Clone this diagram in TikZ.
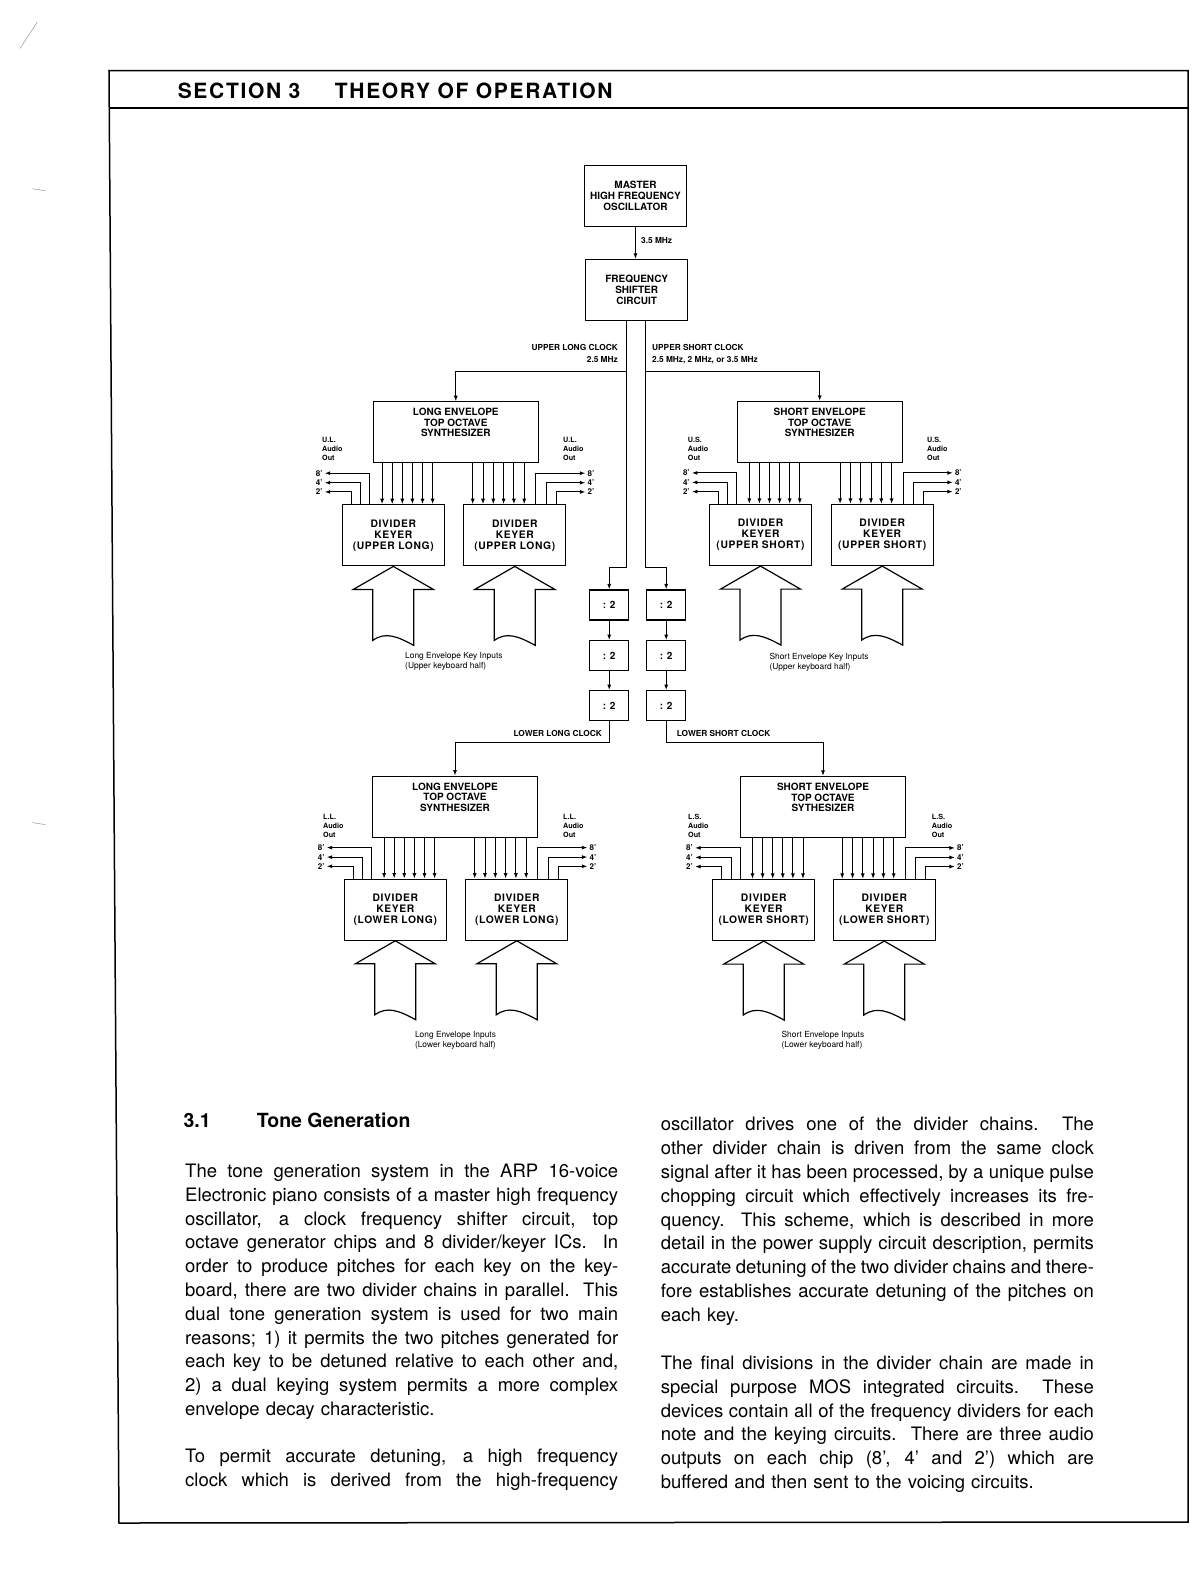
\documentclass[tikz,border=0pt]{standalone}
\usepackage{fontspec}
\setmainfont{TeX Gyre Heros}
\usetikzlibrary{arrows.meta,calc}

\newcommand\boxfnt{\fontsize{10}{11}\selectfont\bfseries}
\newcommand\dkfnt{\fontsize{10.3}{11}\selectfont\bfseries\addfontfeature{LetterSpace=6}}
\newcommand\synfnt{\fontsize{10}{10.5}\selectfont\bfseries}
\newcommand\clkfnt{\fontsize{8.3}{12}\selectfont\bfseries}
\newcommand\audfnt{\fontsize{7.2}{9}\selectfont\bfseries}
\newcommand\octfnt{\fontsize{8}{9}\selectfont\bfseries}
\newcommand\keyfnt{\fontsize{8.4}{9.7}\selectfont}
\newcommand\bodyfnt{\fontsize{18.5}{23.8}\selectfont}
\newcommand\headfnt{\fontsize{21}{24}\selectfont\bfseries\addfontfeature{LetterSpace=8}}
\newcommand\titfnt{\fontsize{19.5}{22}\selectfont\bfseries}
\newcommand\jl[1]{\noindent\hbox to 433pt{\spaceskip=.278em plus 1fil minus .1em\relax\strut#1}}
\newcommand\lastl[1]{\noindent\hbox to 433pt{\strut#1\hfil}}

\begin{document}
\begin{tikzpicture}[x=1pt, y=-1pt,
  unit/.style={draw, line width=1.2pt, align=center, inner sep=0pt, font=\boxfnt,
    minimum width=102pt, minimum height=61pt},
  dkbox/.style={unit, font=\dkfnt},
  divbox/.style={unit, minimum width=39pt, minimum height=30pt},
  synbox/.style={draw, line width=1.2pt, minimum width=165pt, minimum height=61pt},
  syntxt/.style={anchor=north, align=center, inner sep=0pt, font=\synfnt},
  sig/.style={line width=1pt, -{Latex[length=5.5pt,width=4pt]}},
  wire/.style={line width=1pt},
  clk/.style={font=\clkfnt, inner sep=0pt},
  aud/.style={font=\audfnt, inner sep=0pt, align=left, anchor=north west},
  oct/.style={font=\octfnt, inner sep=0pt},
  keyl/.style={font=\keyfnt, inner sep=0pt, align=left, anchor=north west},
  para/.style={font=\bodyfnt, inner sep=0pt, text width=433pt, anchor=north west},
  frame/.style={line width=1.5pt},
  keyin/.pic={\draw[line width=1.2pt] (0,0) -- (-40,23) -- (-20.5,23) -- (-20.5,74)
      .. controls (-8,65) and (4,70) .. (20.5,79) -- (20.5,23) -- (40,23) -- cycle;}
]
\useasboundingbox (0,0) rectangle (1198,1583);

% page frame and heading
\draw[frame] (109,70.7) -- (1188,70.7) -- (1188,1522) -- (119,1523) -- cycle;
\draw[frame] (109.3,108) -- (1188,108);
\node[anchor=base west, inner sep=0pt, font=\headfnt] (sec) at (177.6,98.3) {SECTION 3};
\node[anchor=base west, inner sep=0pt, font=\headfnt] (sectitle) at (334.7,98.3) {THEORY OF OPERATION};
\draw[gray, thin] (20,48.4) -- (37.3,22.2);
\draw[gray, thin] (32.3,188.7) -- (45.4,190.8);
\draw[gray, thin] (32.3,822.6) -- (45.4,824.6);

% oscillator and shifter
\node[unit] (master) at (635.5,196.2) {MASTER\\HIGH FREQUENCY\\OSCILLATOR};
\node[unit] (shifter) at (636.7,290) {FREQUENCY\\SHIFTER\\CIRCUIT};
\draw[sig] (master.south) -- (master.south |- shifter.north);
\node[clk, anchor=west] (mhz) at (641,240.7) {3.5 MHz};

% synthesizers
\node[synbox] (ulsynth) at (455.8,432.3) {};
\node[syntxt] (ulsyntxt) at ([yshift=-7pt]ulsynth.north) {LONG ENVELOPE\\TOP OCTAVE\\SYNTHESIZER};
\node[synbox] (ussynth) at (819.7,432) {};
\node[syntxt] (ussyntxt) at ([yshift=-7pt]ussynth.north) {SHORT ENVELOPE\\TOP OCTAVE\\SYNTHESIZER};
\node[synbox] (llsynth) at (455,806.7) {};
\node[syntxt] (llsyntxt) at ([yshift=-7pt]llsynth.north) {LONG ENVELOPE\\TOP OCTAVE\\SYNTHESIZER};
\node[synbox] (lssynth) at (823,807) {};
\node[syntxt] (lssyntxt) at ([yshift=-7pt]lssynth.north) {SHORT ENVELOPE\\TOP OCTAVE\\SYTHESIZER};

% divider keyers
\node[dkbox] (ul1) at (393.3,535.3) {DIVIDER\\KEYER\\(UPPER LONG)};
\node[dkbox] (ul2) at (514.8,535.3) {DIVIDER\\KEYER\\(UPPER LONG)};
\node[dkbox] (us1) at (760.5,535) {DIVIDER\\KEYER\\(UPPER SHORT)};
\node[dkbox] (us2) at (882.2,535) {DIVIDER\\KEYER\\(UPPER SHORT)};
\node[dkbox] (ll1) at (395.3,909.7) {DIVIDER\\KEYER\\(LOWER LONG)};
\node[dkbox] (ll2) at (516.8,909.7) {DIVIDER\\KEYER\\(LOWER LONG)};
\node[dkbox] (ls1) at (763.7,910) {DIVIDER\\KEYER\\(LOWER SHORT)};
\node[dkbox] (ls2) at (884.3,910) {DIVIDER\\KEYER\\(LOWER SHORT)};

% divide-by-two chains
\foreach \i/\y in {1/605, 2/655.7, 3/705.7} {
  \node[divbox] (dl\i) at (609.2,\y) {: 2};
  \node[divbox] (dr\i) at (666.2,\y) {: 2};
}
\draw[sig] (dl1) -- (dl2);
\draw[sig] (dl2) -- (dl3);
\draw[sig] (dr1) -- (dr2);
\draw[sig] (dr2) -- (dr3);

% clocks
\coordinate (ulk) at (626,371.7);
\coordinate (usk) at (645,371.7);
\draw[wire] (shifter.south -| ulk) -- (ulk);
\draw[wire] (shifter.south -| usk) -- (usk);
\draw[sig] (ulk) -| (ulsynth.north);
\draw[sig] (usk) -| (ussynth.north);
\draw[sig] (ulk) |- ([yshift=22pt]dl1.north) -- (dl1.north);
\draw[sig] (usk) |- ([yshift=22pt]dr1.north) -- (dr1.north);
\draw[sig] (dl3.south) -- ++(0,21) -| (llsynth.north);
\draw[sig] (dr3.south) -- ++(0,21) -| (lssynth.north);
\node[clk, align=right, anchor=north east] (ulclk) at (618,344) {UPPER LONG CLOCK\\2.5 MHz};
\node[clk, align=left, anchor=north west] (usclk) at (652,344) {UPPER SHORT CLOCK\\2.5 MHz, 2 MHz, or 3.5 MHz};
\node[clk, anchor=east] (llclk) at (602,733.3) {LOWER LONG CLOCK};
\node[clk, anchor=west] (lsclk) at (676.7,733.3) {LOWER SHORT CLOCK};

% synthesizer outputs and audio outputs
\foreach \s/\a/\b in {ulsynth/ul1/ul2, ussynth/us1/us2, llsynth/ll1/ll2, lssynth/ls1/ls2} {
  \foreach \k in {0,...,5} {
    \path ($(\a.north west)+({40.4+10.1*\k},0)$) coordinate (fa)
          ($(\b.north west)+({9.5+10.3*\k},0)$) coordinate (fb);
    \draw[sig] (\s.south -| fa) -- (fa);
    \draw[sig] (\s.south -| fb) -- (fb);
  }
  \foreach \o/\h/\t/\i in {28/31/8'/1, 19/21.5/4'/2, 9.5/12.3/2'/3} {
    \path ($(\a.north west)+(\o,0)$) coordinate (oa) ($(\a.north west)+(-17,-\h)$) coordinate (ta);
    \draw[sig] (oa) |- (ta);
    \node[oct, anchor=east] (\a-o\i) at ([xshift=-2pt]ta) {\t};
  }
  \foreach \o/\h/\t/\i in {30.5/31/8'/1, 20.3/21.5/4'/2, 10/12.3/2'/3} {
    \path ($(\b.north east)+(-\o,0)$) coordinate (ob) ($(\b.north east)+(19,-\h)$) coordinate (tb);
    \draw[sig] (ob) |- (tb);
    \node[oct, anchor=west] (\b-o\i) at ([xshift=2pt]tb) {\t};
  }
}
\node[aud] (ulaud1) at (322,437) {U.L.\\Audio\\Out};
\node[aud] (ulaud2) at (563,437) {U.L.\\Audio\\Out};
\node[aud] (usaud1) at (687.7,437) {U.S.\\Audio\\Out};
\node[aud] (usaud2) at (927,437) {U.S.\\Audio\\Out};
\node[aud] (llaud1) at (323,814) {L.L.\\Audio\\Out};
\node[aud] (llaud2) at (563,814) {L.L.\\Audio\\Out};
\node[aud] (lsaud1) at (688,814) {L.S.\\Audio\\Out};
\node[aud] (lsaud2) at (931.7,814) {L.S.\\Audio\\Out};

% key inputs
\foreach \d in {ul1,ul2,us1,us2,ll1,ll2,ls1,ls2}
  \pic at (\d.south) {keyin};
\node[keyl] (ulkey) at (405,652.5) {Long Envelope Key Inputs\\(Upper keyboard half)};
\node[keyl] (uskey) at (769.3,653) {Short Envelope Key Inputs\\(Upper keyboard half)};
\node[keyl] (llkey) at (414.8,1031.5) {Long Envelope Inputs\\(Lower keyboard half)};
\node[keyl] (lskey) at (781.4,1031.5) {Short Envelope Inputs\\(Lower keyboard half)};

% text
\node[anchor=base west, inner sep=0pt, font=\titfnt] (secnum) at (183.3,1127.7) {3.1};
\node[anchor=base west, inner sep=0pt, font=\titfnt] (sectone) at (256.7,1127.7) {Tone Generation};
\node[para] (pa) at (185,1160.6) {%
\jl{The tone generation system in the ARP 16-voice}\\
\jl{Electronic piano consists of a master high frequency}\\
\jl{oscillator, a clock frequency shifter circuit, top}\\
\jl{octave generator chips and 8 divider/keyer ICs.\ \ In}\\
\jl{order to produce pitches for each key on the key-}\\
\jl{board, there are two divider chains in parallel.\ \ This}\\
\jl{dual tone generation system is used for two main}\\
\jl{reasons; 1) it permits the two pitches generated for}\\
\jl{each key to be detuned relative to each other and,}\\
\jl{2) a dual keying system permits a more complex}\\
\lastl{envelope decay characteristic.}};
\node[para] (pb) at (185,1445.6) {%
\jl{To permit accurate detuning, a high frequency}\\
\jl{clock which is derived from the high-frequency}};
\node[para] (pc) at (660.7,1114) {%
\jl{oscillator drives one of the divider chains.\ \ The}\\
\jl{other divider chain is driven from the same clock}\\
\jl{signal after it has been processed, by a unique pulse}\\
\jl{chopping circuit which effectively increases its fre-}\\
\jl{quency.\ \ This scheme, which is described in more}\\
\jl{detail in the power supply circuit description, permits}\\
\jl{accurate detuning of the two divider chains and there-}\\
\jl{fore establishes accurate detuning of the pitches on}\\
\lastl{each key.}};
\node[para] (pd) at (660.7,1352.6) {%
\jl{The final divisions in the divider chain are made in}\\
\jl{special purpose MOS integrated circuits.\ \ These}\\
\jl{devices contain all of the frequency dividers for each}\\
\jl{note and the keying circuits.\ \ There are three audio}\\
\jl{outputs on each chip (8', 4' and 2') which are}\\
\lastl{buffered and then sent to the voicing circuits.}};
\end{tikzpicture}
\end{document}
